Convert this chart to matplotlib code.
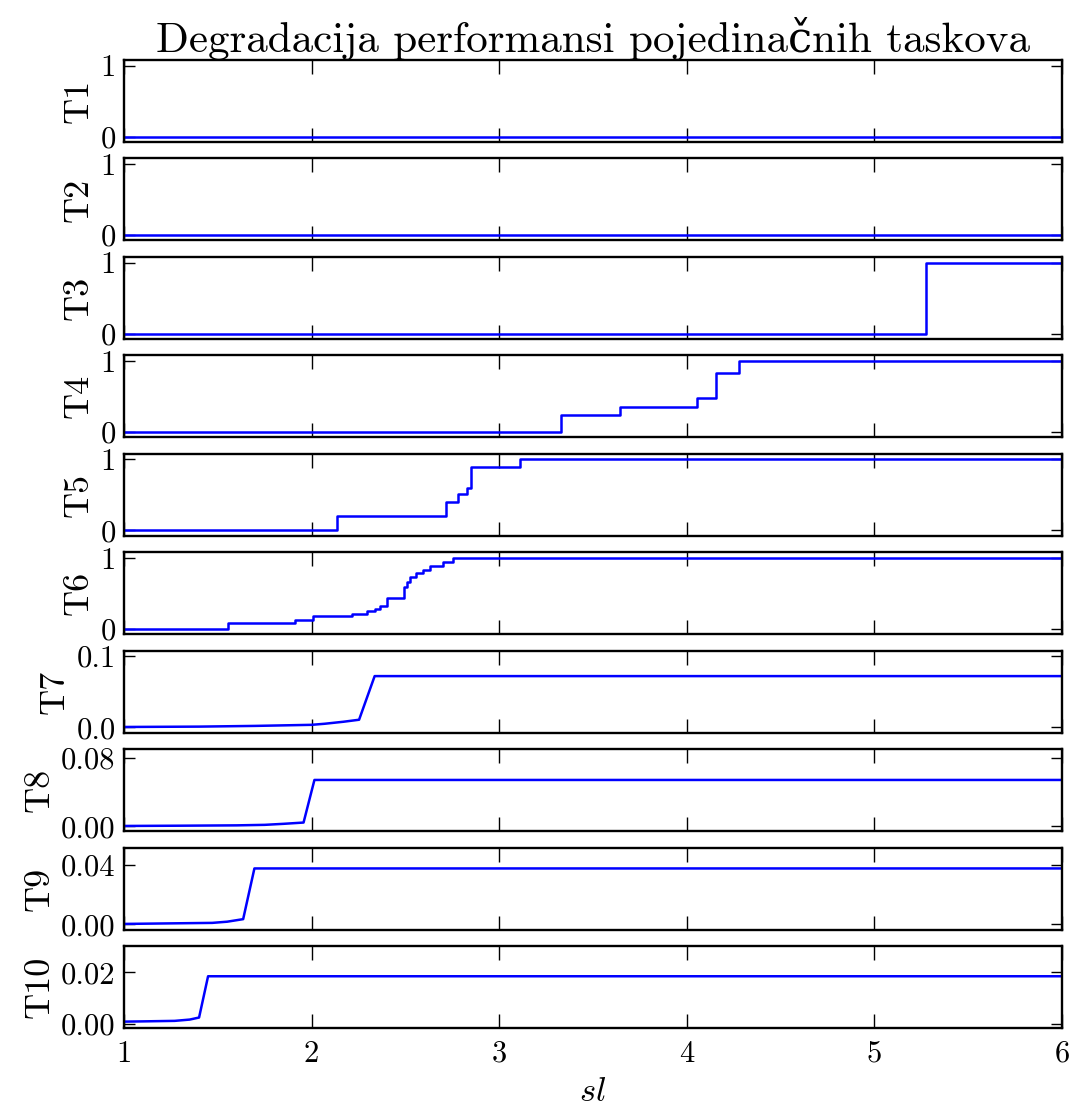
import matplotlib
matplotlib.use("Agg")
import matplotlib.pyplot as plt

# data
names = ["T1", "T2", "T3", "T4", "T5", "T6", "T7", "T8", "T9", "T10"]

sl_t1 = [1.0, 6.0]
t1 = [0.0, 0.0]
sl_t2 = [1.0, 6.0]
t2 = [0.0, 0.0]
sl_t3 = [1.0, 5.275, 6.0]
t3 = [0.0, 1.0, 1.0]
sl_t4 = [1.0, 3.327, 3.646, 4.054, 4.158, 4.278, 6.0]
t4 = [0.0, 0.243, 0.354, 0.485, 0.83, 1.0, 1.0]
sl_t5 = [1.0, 2.136, 2.714, 2.78, 2.826, 2.847, 3.113, 6.0]
t5 = [0.0, 0.20, 0.40, 0.51, 0.60, 0.90, 1.0, 1.0]
sl_t6 = [1.0, 1.552, 1.911, 2.005, 2.213, 2.293, 2.337, 2.364, 2.403, 2.494,
         2.509, 2.524, 2.559, 2.595, 2.63, 2.70, 2.754, 6.0]
t6 = [0.0, 0.09, 0.125, 0.184, 0.214, 0.248, 0.28, 0.32, 0.43, 0.59,
      0.66, 0.73, 0.79, 0.83, 0.89, 0.94, 1.0, 1.0]
sl_t7 = [1.0, 1.4, 1.7, 2.0, 2.07, 2.17, 2.253, 2.336, 6.0]
t7 = [0.0005, 0.001, 0.002, 0.0035, 0.005, 0.0078, 0.0106, 0.0715, 0.0715]
sl_t8 = [1.0, 1.3, 1.6, 1.75, 1.85, 1.957, 2.015, 6.0]
t8 = [0.0005, 0.0008, 0.0012, 0.0018, 0.003, 0.0045, 0.0545, 0.0545]
sl_t9 = [1.0, 1.2, 1.47, 1.55, 1.635, 1.695, 6.0]
t9 = [0.0003, 0.0006, 0.001, 0.0018, 0.0035, 0.0375, 0.0375]
sl_t10 = [1.0, 1.1, 1.27, 1.35, 1.40, 1.448, 6.0]
t10 = [0.0008, 0.0009, 0.0011, 0.0016, 0.0024, 0.0185, 0.0185]

xs = [sl_t1, sl_t2, sl_t3, sl_t4, sl_t5, sl_t6, sl_t7, sl_t8, sl_t9, sl_t10]
ys = [t1, t2, t3, t4, t5, t6, t7, t8, t9, t10]
stepped = [True] * 6 + [False] * 4

yticks = [[0, 1]] * 6 + [[0, 0.1], [0, 0.08], [0, 0.04], [0, 0.02]]
ytick_labels = [["0", "1"]] * 6 + [["0.0", "0.1"], ["0.00", "0.08"],
                                   ["0.00", "0.04"], ["0.00", "0.02"]]
ylims = [(-0.075, 1.08)] * 6 + [(-0.0075, 0.107), (-0.0056, 0.0907),
                                (-0.0035, 0.0515), (-0.0017, 0.0303)]
xticks = [1, 2, 3, 4, 5, 6]

plt.rcParams['font.family'] = ['cmr10', 'DejaVu Serif']
plt.rcParams['mathtext.fontset'] = 'cm'
plt.rcParams['axes.formatter.use_mathtext'] = True
plt.rcParams['axes.linewidth'] = 1.7

fig, axes = plt.subplots(10, 1, figsize=(10.73, 11.09), dpi=100, sharex=True)
fig.subplots_adjust(left=0.1156, right=0.9897, top=0.9459, bottom=0.073,
                    hspace=0.2)

for i, ax in enumerate(axes):
    if stepped[i]:
        ax.plot(xs[i], ys[i], color='#0000ff', lw=1.8, drawstyle='steps-post')
    else:
        ax.plot(xs[i], ys[i], color='#0000ff', lw=1.8)
    ax.set_xlim(1, 6)
    ax.set_ylim(*ylims[i])
    ax.set_yticks(yticks[i])
    ax.set_yticklabels(ytick_labels[i])
    ax.set_xticks(xticks)
    ax.tick_params(axis='both', direction='in', top=True, right=True,
                   labelsize=22, width=1.0)
    ax.tick_params(axis='x', length=10, pad=9)
    ax.tick_params(axis='y', length=8, pad=6)
    ax.set_ylabel(names[i], fontsize=26, labelpad=4)

axes[-1].set_xticklabels([str(v) for v in xticks])
axes[-1].set_xlabel("$sl$", fontsize=25, labelpad=6)
axes[0].set_title("Degradacija performansi pojedinačnih taskova",
                  fontsize=31, pad=5)

plt.savefig("out.png", dpi=100)
